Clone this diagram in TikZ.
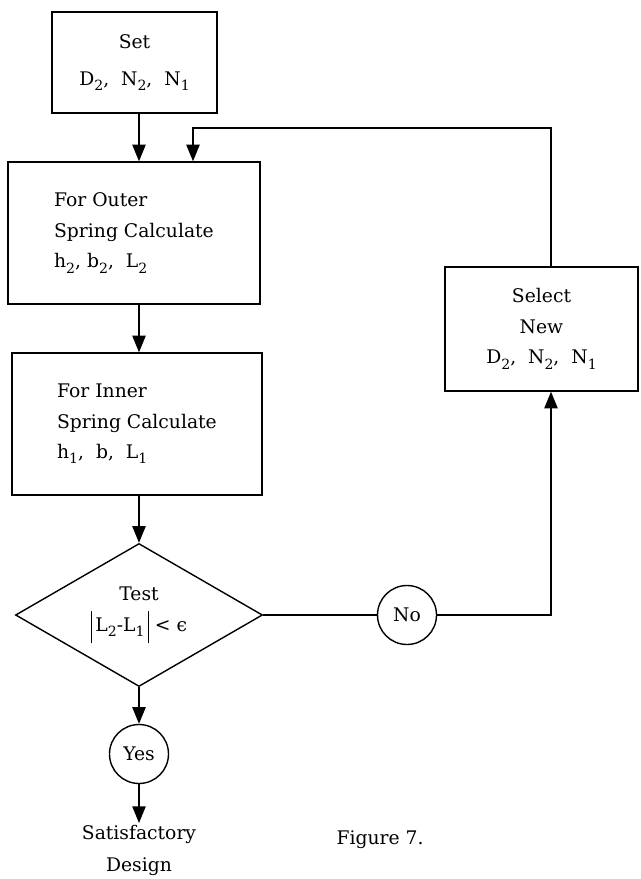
\documentclass[tikz,border=0pt]{standalone}
\usepackage{fontspec}
\setmainfont{DejaVu Serif}
\usepackage{tikz}
\usetikzlibrary{shapes.geometric, arrows.meta, positioning}
\newcommand{\sub}[1]{\raisebox{-0.55ex}{\fontsize{12pt}{12pt}\selectfont #1}}
\newcommand{\absbar}{\vrule width 1.1pt height 17pt depth 10pt}

\begin{document}
\begin{tikzpicture}[
          x=0.03cm, y=-0.03cm,
          line width=1.2pt,
          every node/.style={font=\fontsize{16pt}{26pt}\selectfont},
          stepbox/.style={rectangle, draw, align=center, inner sep=2pt},
          calcbox/.style={rectangle, draw, align=left, inner sep=2pt, minimum width=7.5cm, minimum height=4.26cm},
          testbox/.style={diamond, draw, align=center, inner sep=0pt, shape aspect=1.7, minimum width=7.41cm, minimum height=4.29cm},
          answer/.style={circle, draw, inner sep=0pt, minimum size=1.77cm},
          flow/.style={-{Triangle[length=5mm, width=4mm]}}
        ]
          \useasboundingbox (0,0) rectangle (640,879);

          % Start and the two calculations
          \node[stepbox, minimum width=4.95cm, minimum height=3.03cm, font=\fontsize{16pt}{32pt}\selectfont] (set) at (134.5,62.5) {Set\\D\sub{2}, ~N\sub{2}, ~N\sub{1}};
          \node[calcbox, minimum width=7.56cm] (outer) at (134,233) {For Outer\\Spring Calculate\\h\sub{2}, b\sub{2}, ~L\sub{2}};
          \node[calcbox] (inner) at (137,424) {For Inner\\Spring Calculate\\h\sub{1}, ~b, ~L\sub{1}};

          % Test and the two answers
          \node[testbox] (test) at (139,615) {Test\\\absbar\,L\sub{2}-L\sub{1}\,\absbar{} < ϵ};
          \node[answer] (yes) at (139,754) {Yes};
          \node[answer] (no) at (407,615) {No};
          \node[align=center, anchor=north, inner sep=1pt, font=\fontsize{16pt}{28pt}\selectfont] (design) at (139,823) {Satisfactory\\Design};

          % New values
          \node[stepbox, minimum width=5.79cm, minimum height=3.72cm] (select) at (541.5,329) {Select\\New\\D\sub{2}, ~N\sub{2}, ~N\sub{1}};

          \node (caption) at (380,840) {Figure 7.};

          \coordinate (turn) at (551,615);
          \coordinate (looptop) at (193,128);

          \draw[flow] (set.south -| test.north) -- (outer.north -| test.north);
          \draw[flow] (outer.south -| test.north) -- (inner.north -| test.north);
          \draw[flow] (inner.south -| test.north) -- (test.north);
          \draw[flow] (test.south) -- (yes.north);
          \draw[flow] (yes.south) -- (design.north);
          \draw (test.east) -- (no.west);
          \draw[flow] (no.east) -- (turn) -- (select.south -| turn);
          \draw[flow] (select.north -| turn) |- (looptop) -- (looptop |- outer.north);
        \end{tikzpicture}
\end{document}
